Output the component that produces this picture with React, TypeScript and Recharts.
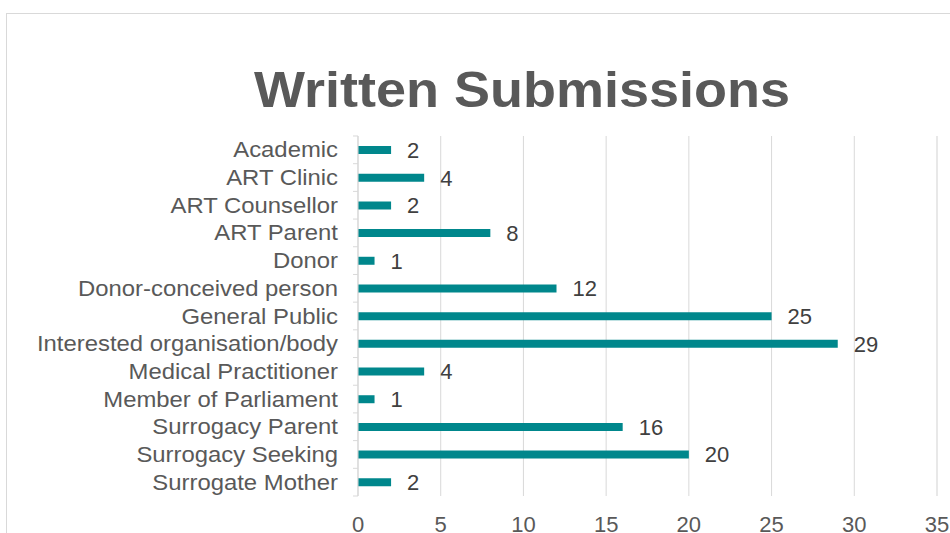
import { BarChart, Bar, XAxis, YAxis, CartesianGrid, LabelList } from 'recharts';

const categories = [
  'Academic',
  'ART Clinic',
  'ART Counsellor',
  'ART Parent',
  'Donor',
  'Donor-conceived person',
  'General Public',
  'Interested organisation/body',
  'Medical Practitioner',
  'Member of Parliament',
  'Surrogacy Parent',
  'Surrogacy Seeking',
  'Surrogate Mother',
];
const submissions = [2, 4, 2, 8, 1, 12, 25, 29, 4, 1, 16, 20, 2];
const majorTicks = [0, 5, 10, 15, 20, 25, 30, 35];
const minorTicks = Array.from({ length: 36 }, (_, i) => i);

const data = categories.map((name, i) => ({ name, value: submissions[i] }));

const FONT = '"Liberation Sans", Arial, sans-serif';
const HALF_BAND = 13.85;

function CategoryTick(props: any) {
  const { x, y, payload, index } = props;
  const last = index === categories.length - 1;
  return (
    <g>
      <line x1={x + 15} x2={x + 20} y1={y - HALF_BAND} y2={y - HALF_BAND} stroke="#d9d9d9" />
      {last && <line x1={x + 15} x2={x + 20} y1={y + HALF_BAND} y2={y + HALF_BAND} stroke="#d9d9d9" />}
      <text
        transform={`translate(${x},${y}) scale(1.11,1)`}
        dy="0.35em"
        textAnchor="end"
        fill="#595959"
        fontSize={21.5}
        fontFamily={FONT}
      >
        {payload.value}
      </text>
    </g>
  );
}

export default function App() {
  return (
    <div style={{ position: 'absolute', left: 0, top: 0, width: 950, height: 533, overflow: 'hidden', background: '#fff' }}>
      <div style={{ position: 'absolute', left: 6, top: 13, width: 1100, height: 600, border: '1px solid #d9d9d9' }} />
      <div
        style={{
          position: 'absolute',
          left: 222,
          width: 600,
          top: 60,
          textAlign: 'center',
          fontFamily: FONT,
          fontWeight: 'bold',
          fontSize: 50,
          lineHeight: '60px',
          color: '#595959',
          transform: 'scaleX(1.08)',
        }}
      >
        Written Submissions
      </div>
      <div style={{ position: 'absolute', left: 0, top: 0 }}>
        <BarChart
          width={950}
          height={533}
          data={data}
          layout="vertical"
          margin={{ top: 136, right: 13, bottom: 0, left: 0 }}
          barCategoryGap={0}
        >
          <XAxis xAxisId="minor" type="number" domain={[0, 35]} ticks={minorTicks} hide />
          <CartesianGrid xAxisId="minor" horizontal={false} stroke="#efefef" />
          <CartesianGrid horizontal={false} stroke="#d9d9d9" />
          <XAxis
            type="number"
            domain={[0, 35]}
            ticks={majorTicks}
            height={37}
            axisLine={false}
            tickLine={false}
            tickSize={0}
            tickMargin={20}
            tick={{ fill: '#595959', fontSize: 22, fontFamily: FONT }}
          />
          <YAxis
            type="category"
            dataKey="name"
            width={358}
            axisLine={{ stroke: '#d9d9d9' }}
            tickLine={false}
            tickSize={5}
            tickMargin={15}
            tick={<CategoryTick />}
            interval={0}
          />
          <Bar dataKey="value" fill="#00878c" barSize={8} isAnimationActive={false}>
            <LabelList dataKey="value" position="right" offset={16} fill="#404040" fontSize={22} fontFamily={FONT} />
          </Bar>
        </BarChart>
      </div>
    </div>
  );
}
